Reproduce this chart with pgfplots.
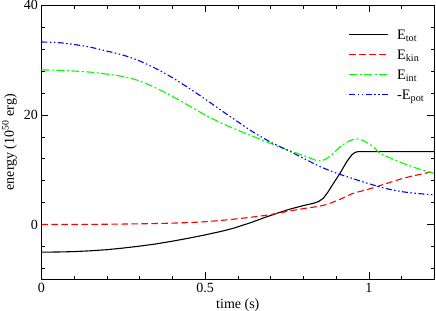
\documentclass[border=0pt]{standalone}
\usepackage{fontspec}
\setmainfont{Liberation Serif}
\usepackage{pgfplots}
\pgfplotsset{compat=1.18}
\definecolor{xgreen}{rgb}{0,1,0}
\definecolor{xred}{rgb}{1,0,0}
\definecolor{xblue}{rgb}{0,0,1}
\begin{document}
\begin{tikzpicture}
\begin{axis}[
  name=ax,
  scale only axis, width=393pt, height=274pt,
  xmin=0, xmax=1.2, ymin=-10, ymax=40,
  xtick={0,0.5,1}, ytick={0,20,40},
  xticklabels={0,0.5,1}, yticklabels={0,20,40},
  minor xtick={0.1,0.2,0.3,0.4,0.6,0.7,0.8,0.9,1.1},
  minor ytick={-8,-4,4,8,12,16,24,28,32,36},
  tick align=inside, major tick length=7pt, minor tick length=3.5pt,
  tick style={black, line width=0.6pt},
  axis line style={line width=0.8pt},
  /pgf/number format/assume math mode=true,
  tick label style={font=\fontsize{14}{16}\selectfont},
  label style={font=\fontsize{14}{16}\selectfont},
  xlabel={time (s)},
  ylabel={energy (10\textsuperscript{50} erg)},
  every axis plot/.append style={line width=1.1pt, no marks},
  legend style={draw=none, fill=none, at={(axis description cs:0.7135,0.9124)}, anchor=north west,
    xshift=27pt,
    font=\fontsize{14.5}{16}\selectfont, row sep=6pt, column sep=8pt, inner sep=0pt,
    nodes={inner sep=0pt, text height=10pt, text depth=4pt}},
  legend cell align=left,
  legend image code/.code={\draw[#1] (0pt,2.3pt) -- (39pt,2.3pt);},
]
\addplot[draw=black] coordinates {
(0,-5.05) (0.05,-5.02) (0.1,-4.95) (0.15,-4.8) (0.2,-4.6) (0.25,-4.3) (0.3,-3.95) (0.35,-3.55)
(0.4,-3.05) (0.45,-2.5) (0.5,-1.9) (0.546,-1.3) (0.586,-0.7) (0.64,0.35) (0.688,1.4)
(0.73,2.25) (0.759,2.8) (0.8,3.45) (0.831,3.87) (0.846,4.16)
(0.861,4.78) (0.876,5.99) (0.892,7.5) (0.912,9.34) (0.933,11.5) (0.948,12.7) (0.958,13.15)
(0.966,13.28) (0.975,13.3) (1.0,13.3) (1.1,13.3) (1.2,13.3)};
\addlegendentry{E\textsubscript{tot}}
\addplot[draw=xred, smooth, dash pattern=on 6.5pt off 3.5pt] coordinates {
(0,0.0) (0.1,0.0) (0.2,0.05) (0.3,0.12) (0.4,0.25) (0.485,0.45) (0.55,0.75) (0.6,1.05)
(0.688,1.7) (0.79,2.8) (0.84,3.25) (0.871,3.65) (0.912,4.6) (0.953,5.7) (0.994,6.35)
(1.055,7.5) (1.116,8.6) (1.2,9.7)};
\addlegendentry{E\textsubscript{kin}}
\addplot[draw=xgreen, smooth, dash pattern=on 8pt off 2.5pt on 2pt off 2.5pt] coordinates {
(0,28.2) (0.05,28.15) (0.1,28.0) (0.15,27.8) (0.2,27.45) (0.25,27.0) (0.3,26.2) (0.35,24.9)
(0.4,23.4) (0.45,21.7) (0.5,20.0) (0.55,18.5) (0.6,17.2) (0.65,16.0) (0.7,14.8) (0.75,13.65)
(0.8,12.6) (0.846,11.6) (0.87,12.0)
(0.892,13.0) (0.912,14.2) (0.943,15.3) (0.963,15.6) (0.983,15.3) (1.014,14.2) (1.034,13.0)
(1.075,11.9) (1.116,10.9) (1.16,10.0) (1.2,9.3)};
\addlegendentry{E\textsubscript{int}}
\addplot[draw=xblue, smooth, dash pattern=on 6pt off 2.5pt on 1.5pt off 2.5pt on 1.5pt off 2.5pt] coordinates {
(0,33.3) (0.05,33.2) (0.1,32.85) (0.15,32.35) (0.2,31.65) (0.25,30.9) (0.3,29.85) (0.35,28.45)
(0.4,26.8) (0.45,24.9) (0.5,22.9) (0.55,20.8) (0.6,18.75) (0.65,16.75) (0.7,15.05) (0.75,13.6)
(0.8,12.1) (0.85,10.6) (0.9,9.4) (0.95,8.4) (1.0,7.45)
(1.05,6.6) (1.1,6.0) (1.15,5.65) (1.2,5.4)};
\addlegendentry{-E\textsubscript{pot}}
\end{axis}
\pgfresetboundingbox
\path[use as bounding box] ([xshift=-41.3pt,yshift=-31.7pt]ax.south west) rectangle ([xshift=1.7pt,yshift=5.3pt]ax.north east);
\end{tikzpicture}
\end{document}
